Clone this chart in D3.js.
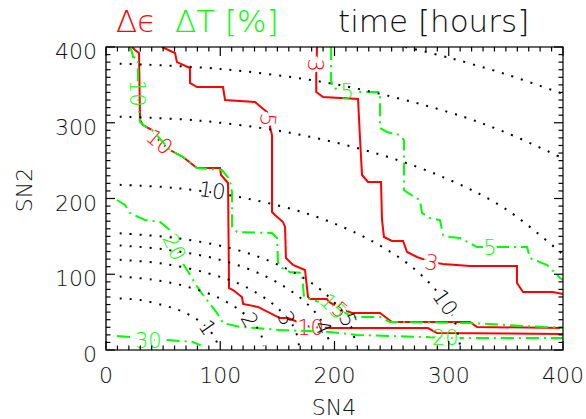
<!DOCTYPE html>
<html>
<head>
<meta charset="utf-8">
<script src="https://cdn.jsdelivr.net/npm/d3@7"></script>
<style>
  body { margin: 0; background: #fff; }
  text { font-family: "DejaVu Sans ExtraLight", "DejaVu Sans", sans-serif; font-weight: 200; }
</style>
</head>
<body>
<svg id="chart"></svg>
<script>
// ---- data: contour paths, [SN4, SN2] ----
const xTicks = [0, 100, 200, 300, 400];
const yTicks = [0, 100, 200, 300, 400];

// time [hours] (black dotted)
const time1 = [[12,68],[30,66],[50,59],[65,52],[80,40],[90,27],[96,14],[98,5]];
const time2 = [[12,97],[40,93],[70,84],[100,68],[120,49],[130,34],[136,19],[138,5]];
const time3 = [[12,119],[50,114],[90,101],[120,85],[145,62],[160,40],[166,25],[169,5]];
const time4 = [[12,138],[50,133],[100,119],[140,97],[170,69],[185,46],[192,28],[196,5]];
const time5 = [[12,154],[60,148],[110,134],[150,113],[185,83],[205,54],[214,33],[219,5]];
const time10 = [[12,218],[60,214],[120,201],[180,178],[230,146],[270,107],[295,67],[305,39],[310,5]];
const time20 = [[12,308],[80,303],[160,287],[240,258],[300,225],[350,186],[400,126]];
const time30 = [[12,378],[100,371],[200,351],[300,314],[350,287],[400,253]];
const time40 = [[262,400],[300,386],[350,364],[400,338]];
const timeLabels = [["1",89,30,55],["2",126,40,60],["3",158,42,65],["4",190,30,65],
                    ["5",212,40,70],["10",93,211,8],["10",297,63,55]];

// Δε (red solid)
const eps3 = [[184.7,400],[184,366],[184,340.6],[190,334],[220.6,331.4],[222.3,280],[224.1,231],
  [229.3,221.8],[240.7,221.8],[241.6,171.6],[243.3,149.2],[250.3,143.9],[260,143.9],[263.5,129.4],
  [272.2,122.8],[285,116],[295,113.5],[318.6,110.9],[359.7,110.9],[359.7,88.4],[365,76.6],
  [391,76.6],[400,74]];
const eps5 = [[49,400],[60.4,392],[62.1,380],[73.5,372.3],[73.5,352.5],[79.6,347.2],[102.4,347.2],
  [104.2,330],[130.4,327.4],[140.9,314.2],[142,304],[145.3,283.8],[145.3,182.2],[147.9,178.2],
  [154.9,169],[156.7,162.4],[157.5,121.5],[163.7,112.2],[174.2,105.6],[176.8,70],[178.6,67.3],
  [193.4,67.3],[195.2,63.4],[205,55],[215.3,48.8],[239.8,48.8],[250.3,37],[318.6,37],[324.7,30.4],
  [400,29]];
const eps10 = [[22.8,400],[25.4,396],[28.9,392],[29.8,303.6],[32.4,297],[40.3,290.4],[47.3,274.6],
  [56,264],[67.4,254.8],[79.6,240.3],[99.8,240.3],[100.7,231],[106.8,220.5],[107.7,81.8],[111.2,79.2],
  [119,70],[120,60.7],[133,56.8],[152.3,42.2],[159.3,42.2],[178.6,30.4],[196,29],[281.8,29],
  [289.7,22.4],[400,21.1]];
const epsLabels = [["3",183,376,90],["3",285,116,10],["5",142,304,95],["5",205,53,40],
                   ["10",47,275,40],["10",179,30,0]];

// ΔT (green dash-dot)
const dT5 = [[197,400],[197,356.4],[198.7,345.9],[211,340.6],[239.8,340.6],[239.8,293],[246,287.8],
  [257.3,283.8],[260.8,277.2],[260.8,211.2],[264.3,207.3],[274.8,198],[276.6,180.9],[283.6,174.3],
  [292.3,171.6],[295,151.8],[301.1,149.2],[309.8,147.9],[324.7,136],[368.5,136],[371.1,121.5],
  [386,112.2],[397.4,95],[400,92.4]];
const dT10 = [[21,400],[22.8,393.4],[23.6,386.8],[27.1,385.5],[28,380],[28,339],[28.9,316.8],
  [29.8,301],[32.4,297],[40.3,290.4],[56,264],[67.4,254.8],[79.6,240.3],[101.5,237.6],[108.5,224.4],
  [110.3,207.3],[110.3,162.4],[114.7,155.8],[145.3,154.5],[149.7,147.9],[150.5,116.2],[154,108.3],
  [161,103],[171.6,101.7],[173.3,70],[185,64],[198.7,58],[212,47],[215.3,43.6],[239.8,43.6],
  [248.6,37],[318.6,35.6],[382.5,30.4],[400,29]];
const dT20 = [[9.6,198],[16.6,191.4],[21,180.9],[34.1,171.6],[47.3,169],[56,158.4],[60.4,136],
  [66.5,116.2],[70.9,105.6],[78.8,85.8],[84.9,72.6],[97.2,48.8],[102.4,35.6],[117.3,30.4],
  [132.2,29],[152.3,26.4],[196,23.8],[219.7,19.8],[277.5,17.2],[296.7,15.8],[312.5,15.8],[400,15.8]];
const dT30 = [[9.6,18.5],[21,17.2],[36.8,13.2],[54.3,13.2],[76.1,10.6],[83,6]];
const dTLabels = [["10",28,339,90],["15",199,58,45],["5",211,341,0],["5",336,136,0],
                  ["20",60,136,65],["20",297,16,0],["30",37,13,0]];

// ---- layout ----
const width = 586, height = 419;
const svg = d3.select("#chart").attr("width", width).attr("height", height);
svg.append("rect").attr("width", width).attr("height", height).attr("fill", "#fff");

const x = d3.scaleLinear().domain([0, 400]).range([106, 563]);
const y = d3.scaleLinear().domain([0, 400]).range([350, 47]);
const defs = svg.append("defs");

defs.append("clipPath").attr("id", "plotClip")
  .append("rect").attr("x", 106).attr("y", 47).attr("width", 457).attr("height", 303);

function addLabels(sel, labels, color, fill, stroke) {
  sel.selectAll("text").data(labels).join("text")
    .attr("transform", d => `translate(${x(d[1])},${y(d[2])}) rotate(${d[3]})`)
    .attr("text-anchor", "middle")
    .attr("dy", "0.36em")
    .attr("font-size", "21px")
    .attr("fill", fill || color)
    .attr("stroke", stroke || "none")
    .attr("stroke-width", stroke ? 6 : 0)
    .text(d => d[0]);
}

function drawSet(name, lines, labels, color, dash, curve) {
  // mask leaves a gap in the lines where the labels sit
  const mask = defs.append("mask").attr("id", "mask-" + name)
    .attr("maskUnits", "userSpaceOnUse")
    .attr("x", 0).attr("y", 0).attr("width", width).attr("height", height);
  mask.append("rect").attr("width", width).attr("height", height).attr("fill", "#fff");
  addLabels(mask.append("g"), labels, "#000", "#000", "#000");

  const line = d3.line().x(d => x(d[0])).y(d => y(d[1])).curve(curve);
  svg.append("g").attr("clip-path", "url(#plotClip)")
    .append("g").attr("mask", `url(#mask-${name})`)
    .selectAll("path").data(lines).join("path")
    .attr("d", line)
    .attr("fill", "none")
    .attr("stroke", color)
    .attr("stroke-width", 2)
    .attr("stroke-dasharray", dash);

  addLabels(svg.append("g"), labels, color);
}

drawSet("eps", [eps3, eps5, eps10], epsLabels, "#ff0000", null, d3.curveLinear);
drawSet("dT", [dT5, dT10, dT20, dT30], dTLabels, "#00ff00", "13,5,2,5", d3.curveLinear);
drawSet("time", [time1, time2, time3, time4, time5, time10, time20, time30, time40],
        timeLabels, "#000", "2,8", d3.curveCatmullRom);

// ---- frame and ticks (IDL style, ticks inside on all sides) ----
const frame = svg.append("g").attr("stroke", "#000").attr("stroke-width", 1.2);
frame.append("rect").attr("x", 106).attr("y", 47).attr("width", 457).attr("height", 303)
  .attr("fill", "none");
frame.append("line").attr("x1", 106).attr("x2", 106).attr("y1", 47).attr("y2", 350)
  .attr("stroke", "#555").attr("stroke-width", 2);

x.ticks(40).forEach(v => {
  const len = v % 100 === 0 ? 9 : 4.5;
  frame.append("line").attr("x1", x(v)).attr("x2", x(v)).attr("y1", 350).attr("y2", 350 - len);
  frame.append("line").attr("x1", x(v)).attr("x2", x(v)).attr("y1", 47).attr("y2", 47 + len);
});
y.ticks(40).forEach(v => {
  const len = v % 100 === 0 ? 9 : 4.5;
  frame.append("line").attr("x1", 106).attr("x2", 106 + len).attr("y1", y(v)).attr("y2", y(v));
  frame.append("line").attr("x1", 563).attr("x2", 563 - len).attr("y1", y(v)).attr("y2", y(v));
});

svg.append("g").selectAll("text").data(xTicks).join("text")
  .attr("x", d => x(d)).attr("y", 383)
  .attr("text-anchor", "middle").attr("font-size", "22px").attr("fill", "#111")
  .text(d => d);
svg.append("g").selectAll("text").data(yTicks).join("text")
  .attr("x", 97).attr("y", d => y(d) + 12)
  .attr("text-anchor", "end").attr("font-size", "22px").attr("fill", "#111")
  .text(d => d);

svg.append("text").attr("x", 334).attr("y", 415)
  .attr("text-anchor", "middle").attr("font-size", "22px").attr("fill", "#111").text("SN4");
svg.append("text").attr("transform", "translate(32,190) rotate(-90)")
  .attr("text-anchor", "middle").attr("font-size", "22px").attr("fill", "#111").text("SN2");

// ---- title ----
const title = svg.append("g").attr("font-size", "31px");
title.append("text").attr("x", 116).attr("y", 32).attr("fill", "#ff0000").text("Δϵ");
title.append("text").attr("x", 175).attr("y", 32).attr("fill", "#00ff00").text("ΔT [%]");
title.append("text").attr("x", 338).attr("y", 32).attr("fill", "#111").text("time [hours]");
</script>
</body>
</html>
